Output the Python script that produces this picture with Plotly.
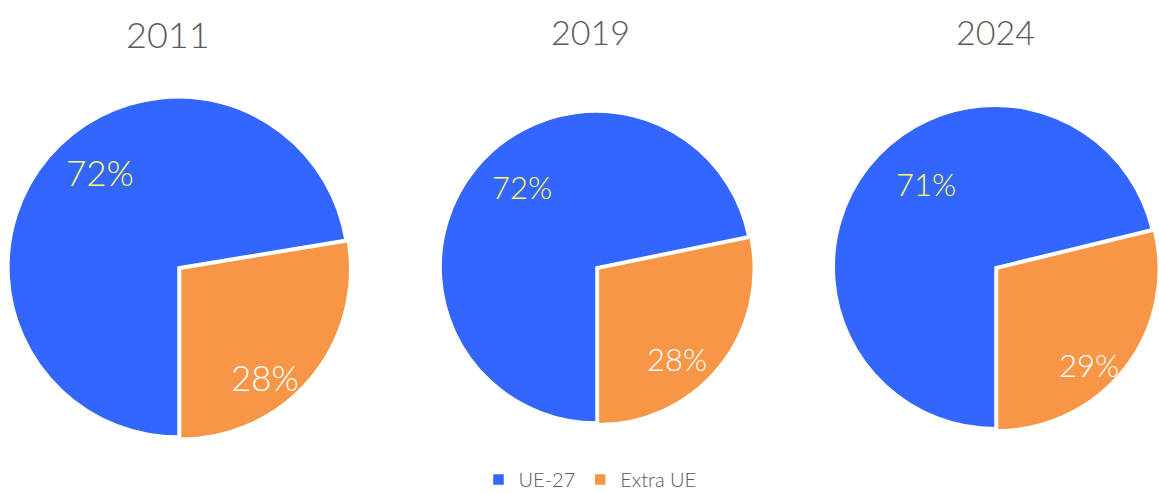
import plotly.graph_objects as go

years = ["2011", "2019", "2024"]
categories = ["UE-27", "Extra UE"]
ue27 = [72.4, 71.8, 71.2]
extra_ue = [27.6, 28.2, 28.8]

colors = ["#3366FF", "#F79646"]
label_colors = ["#FFFF66", "#FFFFFF"]
W, H = 1159, 493

# pixel boxes for each pie (x0, x1, y0_top, y1_top)
boxes = [(5.5, 350.5, 94.5, 439.5), (438, 754, 109, 425), (831, 1159, 103, 431)]
label_sizes = [35, 31, 31]
# label centers in px: [(blue), (orange)]
label_pos = [[(100, 172), (265, 377)], [(522, 187), (677, 359)], [(926, 184), (1089, 365)]]
title_pos = [(168, 34, 36), (590, 31, 34), (995, 31, 34)]

fig = go.Figure()
for i, y in enumerate(years):
    x0, x1, t0, t1 = boxes[i]
    vals = [ue27[i], extra_ue[i]]
    fig.add_trace(go.Pie(
        labels=categories,
        values=vals,
        marker=dict(colors=colors, line=dict(color="white", width=1.5)),
        sort=False,
        direction="clockwise",
        rotation=180,
        pull=[0, 0.02],
        textinfo="none",
        hoverinfo="label+percent",
        showlegend=(i == 0),
        domain=dict(x=[x0 / W, x1 / W], y=[1 - t1 / H, 1 - t0 / H]),
    ))
    total = sum(vals)
    for j, v in enumerate(vals):
        lx, ly = label_pos[i][j]
        fig.add_annotation(x=lx / W, y=1 - ly / H, xref="paper", yref="paper",
                           text=f"{round(v / total * 100)}%", showarrow=False,
                           font=dict(family="Lato", size=label_sizes[i], color=label_colors[j], weight=300),
                           xanchor="center", yanchor="middle")
    tx, ty, ts = title_pos[i]
    fig.add_annotation(x=tx / W, y=1 - ty / H, xref="paper", yref="paper",
                       text=y, showarrow=False,
                       font=dict(family="Lato", size=ts, color="#595959", weight=300),
                       xanchor="center", yanchor="middle")

fig.update_layout(
    width=W, height=H,
    margin=dict(l=0, r=0, t=0, b=0, autoexpand=False),
    paper_bgcolor="white", plot_bgcolor="white",
    legend=dict(orientation="h", x=590 / W, y=-0.012, xanchor="center", yanchor="bottom",
                font=dict(family="Lato", size=20, color="#595959", weight=300),
                itemwidth=30, tracegroupgap=0),
)

fig.write_html("out.html", config={"displayModeBar": False},
               post_script="document.body.style.margin='0';document.body.style.overflow='hidden';")
